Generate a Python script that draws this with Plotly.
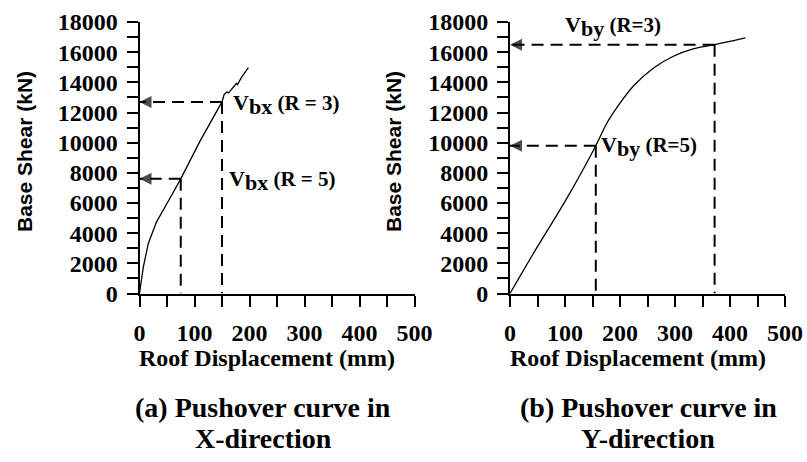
import plotly.graph_objects as go

# Pushover curve, X-direction: roof displacement (mm) vs base shear (kN)
disp_x = [0, 7, 16, 31, 50, 75, 110, 150, 154, 159, 162, 171, 176, 178, 186, 198]
shear_x = [0, 1770, 3320, 4750, 5970, 7600, 10100, 12700, 13200, 13360, 13300, 13700, 13920, 13850, 14360, 14980]

# Pushover curve, Y-direction
disp_y = [0, 42, 103, 156, 176, 200, 224, 261, 297, 333, 372, 428]
shear_y = [0, 2620, 6290, 9800, 11290, 12620, 13740, 14950, 15730, 16220, 16500, 16950]

# Design base shear points (displacement, shear) for R = 3 and R = 5
vbx_r3 = (150, 12700)
vbx_r5 = (75, 7600)
vby_r3 = (372, 16500)
vby_r5 = (156, 9800)

x_ticks = [0, 100, 200, 300, 400, 500]
y_ticks = [0, 2000, 4000, 6000, 8000, 10000, 12000, 14000, 16000, 18000]

W, H = 807, 462
SERIF = "Liberation Serif, Times New Roman, serif"
SANS = "Liberation Sans, Arial, sans-serif"


def fx(p):
    return p / W


def fy(p):
    return 1 - p / H


fig = go.Figure()

dash_style = dict(color="black", width=2, dash="12px,7px")


def add_panel(xa, ya, disp, shear, points, shape):
    fig.add_trace(go.Scatter(x=disp, y=shear, mode="lines",
                             line=dict(color="black", width=1.3, shape=shape,
                                       smoothing=0.8 if shape == "spline" else None),
                             xaxis=xa, yaxis=ya, showlegend=False, hoverinfo="skip"))
    for d, v in points:
        # horizontal guide from the curve to the shear axis, ending in an arrowhead
        fig.add_trace(go.Scatter(x=[d, 0], y=[v, v], mode="lines+markers",
                                 line=dash_style,
                                 marker=dict(symbol=["circle", "arrow-left"], size=[0, 12],
                                             color="black", line=dict(width=0)),
                                 xaxis=xa, yaxis=ya, showlegend=False, hoverinfo="skip"))
        # vertical guide from the curve down to the displacement axis
        fig.add_trace(go.Scatter(x=[d, d], y=[v, 0], mode="lines", line=dash_style,
                                 xaxis=xa, yaxis=ya, showlegend=False, hoverinfo="skip"))


add_panel("x", "y", disp_x, shear_x, [vbx_r3, vbx_r5], "linear")
add_panel("x2", "y2", disp_y, shear_y, [vby_r3, vby_r5], "spline")

tick_font = dict(family=SERIF, size=24, color="black", weight="bold")


def xaxis_cfg(domain):
    return dict(domain=domain, range=[0, 500], tickvals=x_ticks,
                ticktext=[str(t) for t in x_ticks], showline=True, linewidth=2,
                linecolor="black", ticks="outside", ticklen=11, tickwidth=2,
                tickcolor="black", minor=dict(dtick=50, ticks="outside", ticklen=11,
                                              tickwidth=2, tickcolor="black"),
                showgrid=False, zeroline=False, tickfont=tick_font,
                ticklabelstandoff=6, automargin=False, fixedrange=True)


def yaxis_cfg(domain, anchor):
    return dict(domain=domain, range=[0, 18000], tickvals=y_ticks,
                ticktext=[str(t) for t in y_ticks], anchor=anchor, showline=True,
                linewidth=2, linecolor="black", ticks="outside", ticklen=11,
                tickwidth=2, tickcolor="black",
                minor=dict(dtick=1000, ticks="outside", ticklen=11, tickwidth=2,
                           tickcolor="black"),
                showgrid=False, zeroline=False, tickfont=tick_font,
                ticklabelstandoff=4, automargin=False, fixedrange=True)


ydom = [fy(293.5), fy(22)]
fig.update_layout(
    width=W, height=H,
    margin=dict(l=0, r=0, t=0, b=0),
    paper_bgcolor="white", plot_bgcolor="white",
    xaxis=xaxis_cfg([fx(139.5), fx(414.5)]) | dict(anchor="y"),
    yaxis=yaxis_cfg(ydom, "x"),
    xaxis2=xaxis_cfg([fx(510), fx(785)]) | dict(anchor="y2"),
    yaxis2=yaxis_cfg(ydom, "x2"),
)

label_font = dict(family=SERIF, size=21, color="black", weight="bold")


def vlabel(sub, rtext):
    return ("<span style='font-size:22px'>V</span><sub><span style='font-size:22px'>"
            + sub + "</span></sub> " + rtext)


# Base shear labels
fig.add_annotation(x=vbx_r3[0], y=vbx_r3[1], xref="x", yref="y", xanchor="left",
                   yanchor="middle", xshift=9, yshift=-3, showarrow=False,
                   text=vlabel("bx", "(R = 3)"), font=label_font)
fig.add_annotation(x=vbx_r3[0], y=vbx_r5[1], xref="x", yref="y", xanchor="left",
                   yanchor="middle", xshift=5, yshift=-2, showarrow=False,
                   text=vlabel("bx", "(R = 5)"), font=label_font)
fig.add_annotation(x=96, y=18000, xref="x2", yref="y2", xanchor="left",
                   yanchor="middle", xshift=0, yshift=-4, showarrow=False,
                   text=vlabel("by", "(R=3)"), font=label_font)
fig.add_annotation(x=vby_r5[0], y=vby_r5[1], xref="x2", yref="y2", xanchor="left",
                   yanchor="middle", xshift=3, yshift=-1, showarrow=False,
                   text=vlabel("by", "(R=5)"), font=label_font)

# Axis titles and panel captions
title_font = dict(family=SERIF, size=24, color="black", weight="bold")
ytitle_font = dict(family=SANS, size=21, color="black", weight="bold")
caption_font = dict(family=SERIF, size=28, color="black", weight="bold")

panels = [
    (267, 25, 263, "(a) Pushover curve in", "X-direction"),
    (638, 394, 648, "(b) Pushover curve in", "Y-direction"),
]
for tx, ycx, capx, cap1, cap2 in panels:
    fig.add_annotation(x=fx(tx), y=fy(358), xref="paper", yref="paper",
                       xanchor="center", yanchor="middle", showarrow=False,
                       text="Roof Displacement (mm)", font=title_font)
    fig.add_annotation(x=fx(ycx), y=fy(152), xref="paper", yref="paper",
                       xanchor="center", yanchor="middle", showarrow=False,
                       textangle=-90, text="Base Shear (kN)", font=ytitle_font)
    fig.add_annotation(x=fx(capx), y=fy(407), xref="paper", yref="paper",
                       xanchor="center", yanchor="middle", showarrow=False,
                       text=cap1, font=caption_font)
    fig.add_annotation(x=fx(capx), y=fy(438), xref="paper", yref="paper",
                       xanchor="center", yanchor="middle", showarrow=False,
                       text=cap2, font=caption_font)

fig.write_html("out.html")
